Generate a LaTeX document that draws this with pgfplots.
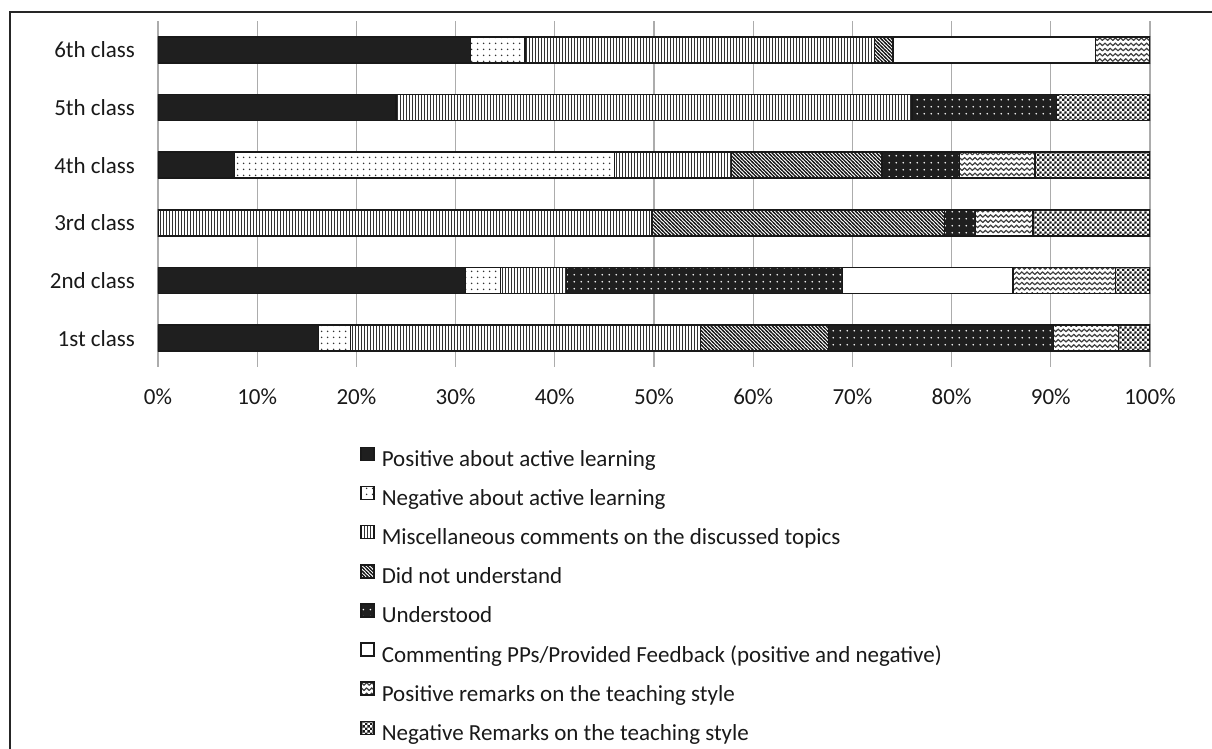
\documentclass[border=0pt]{standalone}
\usepackage{fontspec}
\setmainfont{Carlito}
\usepackage{pgfplots}
\pgfplotsset{compat=1.18}
\usetikzlibrary{patterns}

\pgfdeclarepatternformonly{vlinesd}{\pgfqpoint{-0.1pt}{-0.1pt}}{\pgfqpoint{1.6pt}{1.6pt}}{\pgfqpoint{1.5pt}{1.5pt}}{%
  \pgfsetlinewidth{0.85pt}%
  \pgfpathmoveto{\pgfqpoint{0.75pt}{-0.1pt}}%
  \pgfpathlineto{\pgfqpoint{0.75pt}{1.6pt}}%
  \pgfusepath{stroke}}
\pgfdeclarepatternformonly{nwl}{\pgfqpoint{-0.9pt}{-0.9pt}}{\pgfqpoint{2.7pt}{2.7pt}}{\pgfqpoint{1.8pt}{1.8pt}}{%
  \pgfsetlinewidth{0.6pt}%
  \pgfpathmoveto{\pgfqpoint{-0.45pt}{2.25pt}}%
  \pgfpathlineto{\pgfqpoint{2.25pt}{-0.45pt}}%
  \pgfusepath{stroke}}
\pgfdeclarepatternformonly{sdots}{\pgfqpoint{0pt}{0pt}}{\pgfqpoint{2.8pt}{2.8pt}}{\pgfqpoint{2.8pt}{2.8pt}}{%
  \pgfpathcircle{\pgfqpoint{1.4pt}{1.4pt}}{0.45pt}\pgfusepath{fill}}
\pgfdeclarepatternformonly{wdots}{\pgfqpoint{0pt}{0pt}}{\pgfqpoint{3.4pt}{3.4pt}}{\pgfqpoint{3.4pt}{3.4pt}}{%
  \pgfpathcircle{\pgfqpoint{1.7pt}{1.7pt}}{0.45pt}\pgfusepath{fill}}
\pgfdeclarepatternformonly{wave}{\pgfqpoint{-0.5pt}{-0.5pt}}{\pgfqpoint{3.1pt}{3.1pt}}{\pgfqpoint{2.6pt}{2.6pt}}{%
  \pgfsetlinewidth{0.6pt}\pgfsetroundcap
  \pgfpathmoveto{\pgfqpoint{0pt}{0.7pt}}%
  \pgfpathlineto{\pgfqpoint{1.3pt}{1.9pt}}%
  \pgfpathlineto{\pgfqpoint{2.6pt}{0.7pt}}%
  \pgfusepath{stroke}}
\pgfdeclarepatternformonly{checker}{\pgfqpoint{0pt}{0pt}}{\pgfqpoint{2.4pt}{2.4pt}}{\pgfqpoint{2.4pt}{2.4pt}}{%
  \pgfpathrectangle{\pgfqpoint{0pt}{0pt}}{\pgfqpoint{1.2pt}{1.2pt}}%
  \pgfpathrectangle{\pgfqpoint{1.2pt}{1.2pt}}{\pgfqpoint{1.2pt}{1.2pt}}%
  \pgfusepath{fill}}

\begin{document}
\fontsize{11.5}{14}\selectfont
\begin{tikzpicture}
\useasboundingbox (0,0) rectangle (606pt,374.5pt);
\draw[black!85, line width=0.6pt] (5pt,0) -- (5pt,368.5pt) -- (606pt,368.5pt);
\begin{axis}[
  xbar stacked,
  bar width=13pt,
  scale only axis,
  width=496pt, height=173pt,
  at={(79pt,191pt)}, anchor=south west,
  xmin=0, xmax=100, ymin=-0.5, ymax=5.5,
  xtick={0,10,...,100},
  xticklabels={0\%,10\%,20\%,30\%,40\%,50\%,60\%,70\%,80\%,90\%,100\%},
  ytick={0,1,2,3,4,5},
  yticklabels={1st class,2nd class,3rd class,4th class,5th class,6th class},
  xmajorgrids,
  major grid style={gray!65, line width=0.6pt},
  axis line style={draw=none},
  major tick length=0pt,
  tick style={draw=none},
  xticklabel style={yshift=-7pt, text=black!90},
  yticklabel style={xshift=-7.5pt, text=black!90},
  legend image code/.code={\draw[#1] (0pt,0pt) rectangle (6.5pt,6.5pt);},
  legend cell align=left,
  legend style={at={(0.2036,-0.662)}, anchor=west, draw=none, fill=none,
    inner sep=0pt, row sep=7.2pt, text=black!90,
    nodes={inner sep=0pt, text height=8.5pt, text depth=2.5pt},
    /tikz/every odd column/.append style={column sep=3.5pt}},
]
\addplot[fill=black!88, draw=black!90, line width=0.7pt] coordinates
  {(16.2,0) (31.0,1) (0,2) (7.7,3) (24.0,4) (31.5,5)};
\addlegendentry{Positive about active learning}
\addplot[fill=white, postaction={pattern=sdots, pattern color=black!80}, draw=black!90, line width=0.7pt] coordinates
  {(3.2,0) (3.5,1) (0,2) (38.3,3) (0,4) (5.5,5)};
\addlegendentry{Negative about active learning}
\addplot[fill=white, postaction={pattern=vlinesd, pattern color=black!80}, draw=black!90, line width=0.7pt] coordinates
  {(35.3,0) (6.7,1) (49.8,2) (11.8,3) (52.0,4) (35.2,5)};
\addlegendentry{Miscellaneous comments on the discussed topics}
\addplot[fill=white, postaction={pattern=nwl, pattern color=black!90}, draw=black!90, line width=0.7pt] coordinates
  {(12.9,0) (0,1) (29.5,2) (15.2,3) (0,4) (1.9,5)};
\addlegendentry{Did not understand}
\addplot[fill=black!88, postaction={pattern=wdots, pattern color=white}, draw=black!90, line width=0.7pt] coordinates
  {(22.7,0) (27.8,1) (3.1,2) (7.8,3) (14.6,4) (0,5)};
\addlegendentry{Understood}
\addplot[fill=white, draw=black!90, line width=0.7pt] coordinates
  {(0,0) (17.2,1) (0,2) (0,3) (0,4) (20.4,5)};
\addlegendentry{Commenting PPs/Provided Feedback (positive and negative)}
\addplot[fill=white, postaction={pattern=wave, pattern color=black!75}, draw=black!90, line width=0.7pt] coordinates
  {(6.5,0) (10.3,1) (5.8,2) (7.6,3) (0,4) (5.5,5)};
\addlegendentry{Positive remarks on the teaching style}
\addplot[fill=white, postaction={pattern=checker, pattern color=black!90}, draw=black!90, line width=0.7pt] coordinates
  {(3.2,0) (3.5,1) (11.8,2) (11.6,3) (9.4,4) (0,5)};
\addlegendentry{Negative Remarks on the teaching style}
\end{axis}
\end{tikzpicture}
\end{document}
